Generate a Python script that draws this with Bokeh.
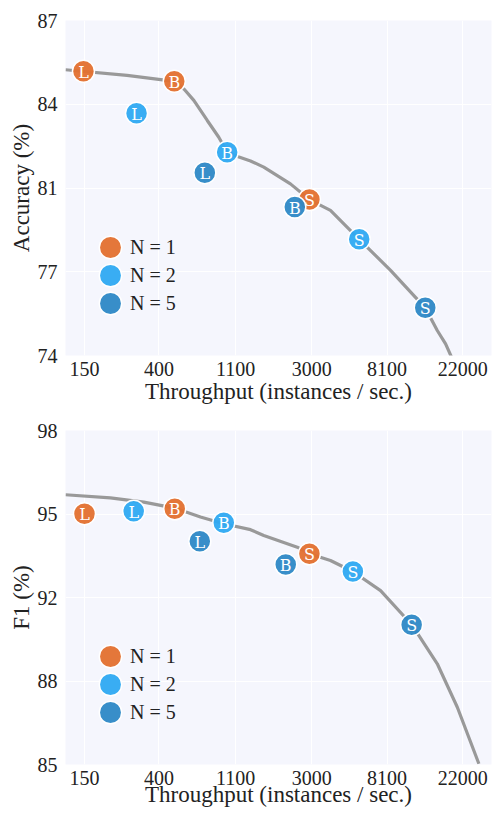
from bokeh.plotting import figure
from bokeh.models import Range1d, FixedTicker, NumeralTickFormatter, Legend, LegendItem
from bokeh.layouts import column
from bokeh.embed import file_html
from bokeh.resources import INLINE
from bokeh.core.properties import value

# ---------------- data ----------------
x_ticks = [150, 400, 1100, 3000, 8100, 22000]

acc_ticks = [74, 77.25, 80.5, 83.75, 87]
acc_tick_labels = ["74", "77", "81", "84", "87"]
f1_ticks = [85, 88.25, 91.5, 94.75, 98]
f1_tick_labels = ["85", "88", "92", "95", "98"]

models = ["L", "B", "S"]
n_labels = ["N = 1", "N = 2", "N = 5"]
colors = ["#e3702f", "#2ea9f2", "#2d88c6"]

# Accuracy panel (order within each list: L, B, S)
acc_thr_n1 = [148, 490, 2910]
acc_val_n1 = [85.03, 84.64, 80.05]
acc_thr_n2 = [298, 984, 5610]
acc_val_n2 = [83.40, 81.89, 78.51]
acc_thr_n5 = [733, 2400, 13400]
acc_val_n5 = [81.09, 79.76, 75.85]

acc_curve_x = [116.8, 263, 491, 560, 634, 757, 881, 984, 1150, 1339, 1594, 2266, 2910,
               3840, 5610, 8483, 13390, 15700, 17520, 18900]
acc_curve_y = [85.09, 84.87, 84.64, 84.32, 83.90, 83.12, 82.47, 81.89, 81.70, 81.55, 81.31,
               80.66, 80.05, 79.63, 78.51, 77.30, 75.85, 74.97, 74.45, 73.95]

# F1 panel
f1_thr_n1 = [150, 493, 2910]
f1_val_n1 = [94.76, 94.95, 93.20]
f1_thr_n2 = [287, 941, 5160]
f1_val_n2 = [94.86, 94.41, 92.51]
f1_thr_n5 = [686, 2130, 11200]
f1_val_n5 = [93.69, 92.78, 90.44]

f1_curve_x = [116.8, 211, 328, 493, 692, 941, 1339, 1594, 2480, 2910, 3840,
              5157, 7435, 11220, 15700, 20450, 27170]
f1_curve_y = [95.50, 95.38, 95.21, 94.98, 94.63, 94.37, 94.14, 93.91, 93.46,
              93.20, 92.94, 92.51, 91.77, 90.44, 88.92, 87.23, 85.03]

SERIF = "Liberation Serif"
LETTER_FONT = "DejaVu Serif"


def make_panel(height, border_top, border_bottom, x_label_standoff, y_lo, y_hi,
               yticks, ylabels, ylabel, groups, curve_x, curve_y):
    p = figure(width=492, height=height, x_axis_type="log",
               x_range=Range1d(116.8, 32086), y_range=Range1d(y_lo, y_hi),
               output_backend="svg", toolbar_location=None,
               min_border_left=65, min_border_right=1,
               min_border_top=border_top, min_border_bottom=border_bottom)
    p.background_fill_color = "#f5f6fd"
    p.border_fill_color = "white"
    p.outline_line_color = None
    p.grid.grid_line_color = "white"
    p.grid.grid_line_width = 1

    p.xaxis.ticker = FixedTicker(ticks=x_ticks)
    p.xaxis.formatter = NumeralTickFormatter(format="0")
    p.yaxis.ticker = FixedTicker(ticks=yticks)
    p.yaxis.major_label_overrides = dict(zip(yticks, ylabels))
    for ax in (p.xaxis[0], p.yaxis[0]):
        ax.axis_line_color = None
        ax.major_tick_line_color = None
        ax.minor_tick_line_color = None
        ax.major_tick_out = 0
        ax.major_tick_in = 0
        ax.minor_tick_out = 0
        ax.minor_tick_in = 0
        ax.major_label_text_font = SERIF
        ax.major_label_text_font_size = "20px"
        ax.major_label_text_color = "#222222"
        ax.axis_label_text_font = SERIF
        ax.axis_label_text_font_size = "23px"
        ax.axis_label_text_font_style = "normal"
        ax.axis_label_text_color = "#222222"
    p.xaxis.major_label_standoff = 6
    p.xaxis.axis_label_standoff = x_label_standoff
    p.yaxis.major_label_standoff = 8
    p.yaxis.axis_label_standoff = 1
    p.xaxis.axis_label = "Throughput (instances / sec.)"
    p.yaxis.axis_label = ylabel

    p.line(curve_x, curve_y, line_color="#999999", line_width=3.2)

    renderers = {}
    # draw order N=1, N=5, N=2 (matches overlaps in the reference)
    for gi in (0, 2, 1):
        xs, ys = groups[gi]
        r = p.ellipse(x=xs, y=ys, width=22, height=22, width_units="screen",
                      height_units="screen", fill_color=colors[gi], fill_alpha=0.95,
                      line_color="white", line_width=1.5)
        renderers[gi] = r
    for gi in (0, 2, 1):
        xs, ys = groups[gi]
        p.text(x=xs, y=ys, text=models, text_color="white",
               text_font=value(LETTER_FONT), text_font_size="16px",
               text_align="center", text_baseline="middle", y_offset=1)

    legend = Legend(items=[LegendItem(label=n_labels[i], renderers=[renderers[i]], index=0)
                           for i in range(3)],
                    location=(31, 38), glyph_width=28, glyph_height=28,
                    label_height=28, label_standoff=6, padding=0, margin=0, spacing=0,
                    label_text_font=SERIF, label_text_font_size="20px",
                    label_text_color="#222222",
                    background_fill_alpha=0, border_line_alpha=0)
    p.add_layout(legend)
    return p


p1 = make_panel(415, 20, 60, 0, 74, 87, acc_ticks, acc_tick_labels, "Accuracy (%)",
                [(acc_thr_n1, acc_val_n1), (acc_thr_n2, acc_val_n2), (acc_thr_n5, acc_val_n5)],
                acc_curve_x, acc_curve_y)
p2 = make_panel(399, 15, 50, -6, 85, 98, f1_ticks, f1_tick_labels, "F1 (%)",
                [(f1_thr_n1, f1_val_n1), (f1_thr_n2, f1_val_n2), (f1_thr_n5, f1_val_n5)],
                f1_curve_x, f1_curve_y)

layout = column(p1, p2, spacing=0)
open("out.html", "w").write(file_html(layout, INLINE))
